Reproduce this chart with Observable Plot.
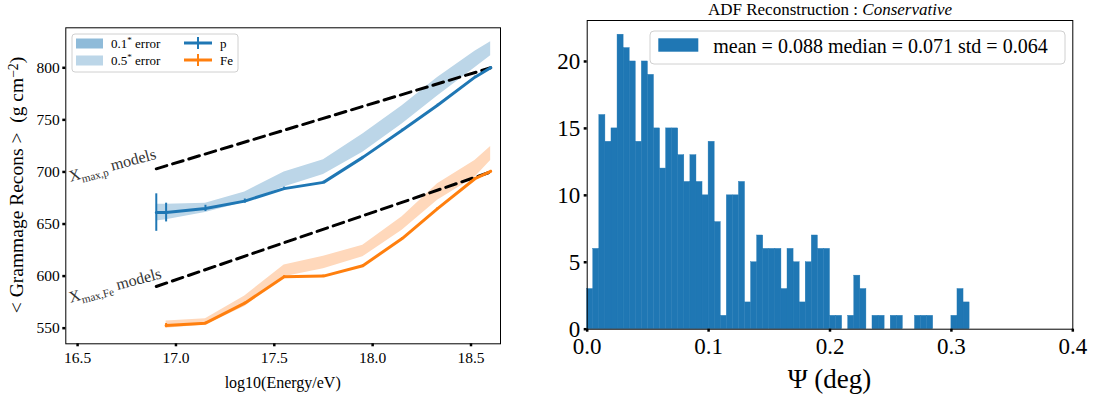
<!DOCTYPE html>
<html><head><meta charset="utf-8">
<script src="https://cdn.jsdelivr.net/npm/d3@7"></script>
<script src="https://cdn.jsdelivr.net/npm/@observablehq/plot@0.6"></script>
<style>
body{margin:0;background:#fff;}
#wrap{position:relative;width:1096px;height:401px;overflow:hidden;background:#fff;}
#left{position:absolute;left:0;top:0;}
#right{position:absolute;left:540px;top:0;}
</style></head><body><div id="wrap"><div id="left"></div><div id="right"></div></div>
<script>
// ---------- data: left panel ----------
const energyP = [16.9, 16.95, 17.15, 17.35, 17.55, 17.75, 17.95, 18.15, 18.33, 18.52, 18.6];
const gramP   = [661, 661, 665, 672, 684, 690, 714, 740, 764, 791, 800];
const errP    = [18, 9, 3, 2, 1.5, 1, 1, 1, 1, 1, 1];
const bandPLow  = [653, 654, 661, 671, 685.5, 697.6, 719, 746, 773, 800, 811.5];
const bandPHigh = [669, 669, 670, 680.7, 700, 711.7, 736.5, 763.6, 790.8, 816, 825];

const energyFe = [16.95, 17.15, 17.35, 17.55, 17.75, 17.95, 18.15, 18.33, 18.52, 18.6];
const gramFe   = [552.5, 554.8, 574, 599.4, 600, 610, 636, 664.8, 693.5, 700.5];
const errFe    = [2, 1, 1, 1, 1, 1, 1, 1, 1, 1];
const bandFeLow  = [550, 553, 570.7, 599.4, 607, 618.5, 644, 672.8, 695, 711];
const bandFeHigh = [557, 559, 581, 610.6, 619, 629.7, 657, 688.7, 711, 724.4];

const modelEnergy = [16.9, 18.6];
const modelP  = [703, 800];
const modelFe = [590, 700];

const annotX = [16.464, 16.464];
const annotY = [690.5, 574.5];
const annotText = ["Xmax,p models", "Xmax,Fe models"];

const xTicksLeft = [16.5, 17.0, 17.5, 18.0, 18.5];
const yTicksLeft = [550, 600, 650, 700, 750, 800];

// ---------- data: right panel ----------
const binStart = 0;
const binWidth = 0.005;
const counts = [3,6,16,14,15,22,21,20,14,20,19,15,12,15,15,13,11,13,11,10,14,8,1,10,10,11,2,5,7,6,6,6,3,6,5,2,5,7,6,6,1,1,0,1,4,3,0,1,1,0,1,1,0,0,1,1,1,0,0,0,1,3,2];
const xTicksRight = [0, 0.1, 0.2, 0.3, 0.4];
const yTicksRight = [0, 5, 10, 15, 20];

// ---------- styles ----------
const FONT = "'Liberation Serif', 'DejaVu Serif', serif";
const blue = "#1f77b4", orange = "#ff7f0e";
const bandBlue = "#bcd6e8", bandBlueDark = "#8fbbd9";
const bandOrange = "#ffd8bb";

const pRows = energyP.map((e, i) => ({e, g: gramP[i], err: errP[i], lo: bandPLow[i], hi: bandPHigh[i]}));
const feRows = energyFe.map((e, i) => ({e, g: gramFe[i], err: errFe[i], lo: bandFeLow[i], hi: bandFeHigh[i]}));
const modelRows = modelEnergy.map((e, i) => ({e, p: modelP[i], fe: modelFe[i]}));
const annotRows = annotText.map((t, i) => ({x: annotX[i], y: annotY[i], t}));

const left = Plot.plot({
  width: 520, height: 401,
  marginLeft: 65.3, marginRight: 20, marginTop: 27.3, marginBottom: 57.7,
  style: {fontFamily: FONT, fontSize: "16px", color: "#000", background: "#fff", overflow: "visible"},
  x: {domain: [16.44, 18.65]},
  y: {domain: [535, 838.4]},
  marks: [
    Plot.areaY(pRows, {x: "e", y1: "lo", y2: "hi", fill: bandBlue}),
    Plot.areaY(feRows, {x: "e", y1: "lo", y2: "hi", fill: bandOrange}),
    Plot.line(modelRows, {x: "e", y: "p", stroke: "#000", strokeWidth: 3, strokeDasharray: "11,6"}),
    Plot.line(modelRows, {x: "e", y: "fe", stroke: "#000", strokeWidth: 3, strokeDasharray: "11,6"}),
    Plot.line(pRows, {x: "e", y: "g", stroke: blue, strokeWidth: 3}),
    Plot.ruleX(pRows, {x: "e", y1: d => d.g - d.err, y2: d => d.g + d.err, stroke: blue, strokeWidth: 2}),
    Plot.line(feRows, {x: "e", y: "g", stroke: orange, strokeWidth: 3}),
    Plot.ruleX(feRows, {x: "e", y1: d => d.g - d.err, y2: d => d.g + d.err, stroke: orange, strokeWidth: 2}),
    Plot.text(annotRows, {x: "x", y: "y", text: "t", rotate: -15, textAnchor: "start", lineAnchor: "bottom", fontSize: 16, fill: "#333"}),
    Plot.axisX({ticks: xTicksLeft, tickFormat: d3.format(".1f"), tickSize: 3, tickPadding: 5, strokeWidth: 2.5, label: null, fontSize: 15.5}),
    Plot.axisY({ticks: yTicksLeft, tickSize: 3, tickPadding: 3, strokeWidth: 2.5, label: null, fontSize: 15.5}),
    Plot.frame({stroke: "#000", strokeWidth: 1})
  ]
});
document.getElementById("left").appendChild(left);

const hist = counts.map((c, i) => ({x1: binStart + i * binWidth, x2: binStart + (i + 1) * binWidth, c})).filter(d => d.c > 0);

const right = Plot.plot({
  width: 556, height: 401,
  marginLeft: 46.7, marginRight: 23.7, marginTop: 20, marginBottom: 72.3,
  style: {fontFamily: FONT, fontSize: "23px", color: "#000", background: "#fff", overflow: "visible"},
  x: {domain: [0, 0.4]},
  y: {domain: [0, 23.06]},
  marks: [
    Plot.rectY(hist, {x1: "x1", x2: "x2", y: "c", fill: blue, stroke: blue, strokeWidth: 0.4, inset: 0}),
    Plot.axisX({ticks: xTicksRight, tickFormat: d3.format(".1f"), tickSize: 3, tickPadding: 5, strokeWidth: 2.5, label: null, fontSize: 23}),
    Plot.axisY({ticks: yTicksRight, tickSize: 3, tickPadding: 4, strokeWidth: 2.5, label: null, fontSize: 23}),
    Plot.frame({stroke: "#000", strokeWidth: 1})
  ]
});
document.getElementById("right").appendChild(right);

// ---------- post-processing: rich text, legends, labels ----------
function richText(sel, parts) {
  sel.text(null);
  let shift = 0;
  parts.forEach(([t, mode]) => {
    const ts = sel.append("tspan").text(t);
    const target = mode === "sub" ? 4 : mode === "sup" ? -5 : 0;
    if (target !== shift) { ts.attr("dy", target - shift); shift = target; }
    if (mode !== "n") ts.attr("font-size", "70%");
  });
}

const ls = d3.select(left);
ls.selectAll("text").each(function() {
  const s = d3.select(this);
  const t = this.textContent;
  if (t === "Xmax,p models") richText(s, [["X", "n"], ["max,p", "sub"], [" models", "n"]]);
  if (t === "Xmax,Fe models") richText(s, [["X", "n"], ["max,Fe", "sub"], [" models", "n"]]);
});

// left axis labels
ls.append("text").attr("x", 282.7).attr("y", 388).attr("text-anchor", "middle")
  .attr("font-family", FONT).attr("font-size", 16).attr("fill", "#000").text("log10(Energy/eV)");
const yl = ls.append("text").attr("transform", "translate(23,185) rotate(-90)").attr("text-anchor", "middle")
  .attr("font-family", FONT).attr("font-size", 19.5).attr("fill", "#000");
richText(yl, [["< Grammage Recons >  (g cm", "n"], ["−2", "sup"], [")", "n"]]);

// left legend
const lg = ls.append("g").attr("font-family", FONT).attr("font-size", 13).attr("text-anchor", "start").attr("fill", "#000");
lg.append("rect").attr("x", 72).attr("y", 34).attr("width", 166).attr("height", 38).attr("rx", 3)
  .attr("fill", "#fff").attr("fill-opacity", 0.8).attr("stroke", "#d0d0d0");
lg.append("rect").attr("x", 76).attr("y", 38.5).attr("width", 27).attr("height", 10).attr("fill", bandBlueDark);
lg.append("rect").attr("x", 76).attr("y", 55.5).attr("width", 27).attr("height", 10).attr("fill", bandBlue);
richText(lg.append("text").attr("x", 111).attr("y", 47.5), [["0.1", "n"], ["*", "sup"], [" error", "n"]]);
richText(lg.append("text").attr("x", 111).attr("y", 64.5), [["0.5", "n"], ["*", "sup"], [" error", "n"]]);
lg.append("line").attr("x1", 184).attr("x2", 212).attr("y1", 43).attr("y2", 43).attr("stroke", blue).attr("stroke-width", 3);
lg.append("line").attr("x1", 198).attr("x2", 198).attr("y1", 37).attr("y2", 49).attr("stroke", blue).attr("stroke-width", 2);
lg.append("line").attr("x1", 184).attr("x2", 212).attr("y1", 60).attr("y2", 60).attr("stroke", orange).attr("stroke-width", 3);
lg.append("line").attr("x1", 198).attr("x2", 198).attr("y1", 54).attr("y2", 66).attr("stroke", orange).attr("stroke-width", 2);
lg.append("text").attr("x", 220).attr("y", 47.5).text("p");
lg.append("text").attr("x", 220).attr("y", 64.5).text("Fe");

// right panel texts
const rs = d3.select(right);
const title = rs.append("text").attr("x", 290).attr("y", 15).attr("text-anchor", "middle")
  .attr("font-family", FONT).attr("font-size", 17).attr("fill", "#000");
title.append("tspan").text("ADF Reconstruction : ");
title.append("tspan").attr("font-style", "italic").text("Conservative");
rs.append("text").attr("x", 289.5).attr("y", 388).attr("text-anchor", "middle")
  .attr("font-family", FONT).attr("font-size", 27).attr("fill", "#000").text("Ψ (deg)");

const rg = rs.append("g").attr("font-family", FONT).attr("font-size", 20).attr("text-anchor", "start");
rg.append("rect").attr("x", 110).attr("y", 31).attr("width", 415).attr("height", 33).attr("rx", 4)
  .attr("fill", "#fff").attr("fill-opacity", 0.8).attr("stroke", "#d0d0d0");
rg.append("rect").attr("x", 118.3).attr("y", 38.3).attr("width", 40).attr("height", 13.4).attr("fill", blue);
rg.append("text").attr("x", 173.3).attr("y", 52.5).attr("fill", "#000").text("mean = 0.088 median = 0.071 std = 0.064");
</script></body></html>
